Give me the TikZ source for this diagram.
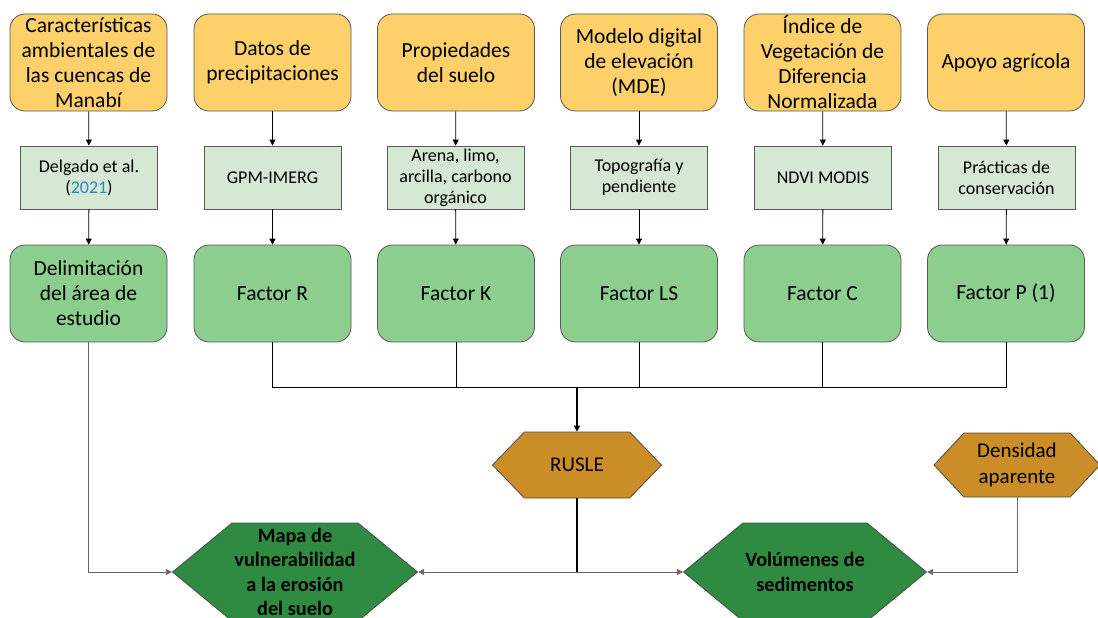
\documentclass[tikz,border=0pt]{standalone}
\usepackage{fontspec}
\setmainfont{Carlito}
\usetikzlibrary{arrows.meta,shapes.symbols}

\definecolor{srcyellow}{HTML}{FED06A}
\definecolor{datagreen}{HTML}{D5E8D4}
\definecolor{factgreen}{HTML}{8BCE8E}
\definecolor{ochre}{HTML}{CA8D27}
\definecolor{darkgreen}{HTML}{2E8B41}
\definecolor{citeblue}{HTML}{2E8BC0}

\tikzset{
  srcbox/.style={draw=black!65, line width=0.8pt, fill=srcyellow, rounded corners=15pt,
    minimum width=157pt, minimum height=97pt, inner sep=0.5pt, align=center,
    font=\fontsize{21.5}{25}\selectfont},
  databox/.style={draw=black!65, line width=0.8pt, fill=datagreen,
    minimum width=137pt, minimum height=63pt, inner sep=0.5pt, align=center,
    font=\fontsize{18}{21}\selectfont},
  factbox/.style={draw=black!65, line width=0.8pt, fill=factgreen, rounded corners=15pt,
    minimum width=157pt, minimum height=97pt, inner sep=1pt, align=center,
    font=\fontsize{21.5}{25}\selectfont},
  hexa/.style={shape=signal, signal to=east and west, signal from=nowhere,
    draw=black!70, line width=0.8pt, inner sep=0pt, align=center},
  methhex/.style={hexa, fill=ochre, font=\fontsize{21}{26}\selectfont},
  outhex/.style={hexa, fill=darkgreen, font=\bfseries\fontsize{20.3}{24.5}\selectfont},
  conn/.style={-{Triangle[length=6pt,width=6pt]}, line width=0.8pt},
}

\begin{document}
\begin{tikzpicture}[x=1pt,y=-1pt]
\useasboundingbox (0,0) rectangle (1098,618);
\clip (0,0) rectangle (1098,618);

% fuentes de datos
\node[srcbox] (cuenca) at (88.5,62.5) {Características\\ambientales de\\las cuencas de\\Manabí};
\node[srcbox] (precip) at (272.5,62.5) {Datos de\\precipitaciones};
\node[srcbox] (suelo) at (456,62.5) {Propiedades\\del suelo};
\node[srcbox] (mde) at (639,62.5) {Modelo digital\\de elevación\\(MDE)};
\node[srcbox] (ndvi) at (822.5,62.5) {Índice de\\Vegetación de\\Diferencia\\Normalizada};
\node[srcbox] (agri) at (1006,62.5) {Apoyo agrícola};

% insumos
\node[databox] (delgado) at (89,177.5) {Delgado et al.\\(\textcolor{citeblue}{2021})};
\node[databox] (gpm) at (272.5,177.5) {GPM-IMERG};
\node[databox] (arena) at (455.5,177.5) {Arena, limo,\\arcilla, carbono\\orgánico};
\node[databox] (topo) at (639,177.5) {Topografía y\\pendiente};
\node[databox] (modis) at (823,177.5) {NDVI MODIS};
\node[databox] (pract) at (1006.5,177.5) {Prácticas de\\conservación};

% factores
\node[factbox] (area) at (88.5,293.5) {Delimitación\\del área de\\estudio};
\node[factbox] (fr) at (272.5,293.5) {Factor R};
\node[factbox] (fk) at (456,293.5) {Factor K};
\node[factbox] (fls) at (639,293.5) {Factor LS};
\node[factbox] (fc) at (822.5,293.5) {Factor C};
\node[factbox] (fp) at (1006,293.5) {Factor P (1)};

% modelo y resultados
\node[methhex, signal pointer angle=92, minimum width=169pt, minimum height=66pt] (rusle) at (577,465) {RUSLE};
\node[methhex, signal pointer angle=94, minimum width=166pt, minimum height=64pt] (dens) at (1017,465) {Densidad\\aparente};
\node[outhex, signal pointer angle=79, minimum width=245pt, minimum height=98pt] (mapa) at (295,572) {Mapa de\\vulnerabilidad\\a la erosión\\del suelo};
\node[outhex, signal pointer angle=79, minimum width=243pt, minimum height=98pt] (vol) at (805,572) {Volúmenes de\\sedimentos};

\coordinate (bus) at (577,387);
\coordinate (join) at (577,572);

\draw[conn] (cuenca) -- (delgado);
\draw[conn] (precip) -- (gpm);
\draw[conn] (suelo) -- (arena);
\draw[conn] (mde) -- (topo);
\draw[conn] (ndvi) -- (modis);
\draw[conn] (agri) -- (pract);

\draw[conn] (delgado) -- (area);
\draw[conn] (gpm) -- (fr);
\draw[conn] (arena) -- (fk);
\draw[conn] (topo) -- (fls);
\draw[conn] (modis) -- (fc);
\draw[conn] (pract) -- (fp);

\draw[line width=0.8pt] (fr.south) -- (fr.south |- bus) -- (fp.south |- bus) -- (fp.south);
\draw[line width=0.8pt] (fk.south) -- (fk.south |- bus);
\draw[line width=0.8pt] (fls.south) -- (fls.south |- bus);
\draw[line width=0.8pt] (fc.south) -- (fc.south |- bus);
\draw[conn, line width=1.5pt] (bus) -- (rusle.north);

\draw[line width=1.5pt] (rusle.south) -- (join);
\draw[conn, black!60] (join) -- (mapa.east);
\draw[conn, black!60] (join) -- (vol.west);
\draw[conn, black!60] (area.south) |- (mapa.west);
\draw[conn, black!60] (dens.south) |- (vol.east);
\end{tikzpicture}
\end{document}
